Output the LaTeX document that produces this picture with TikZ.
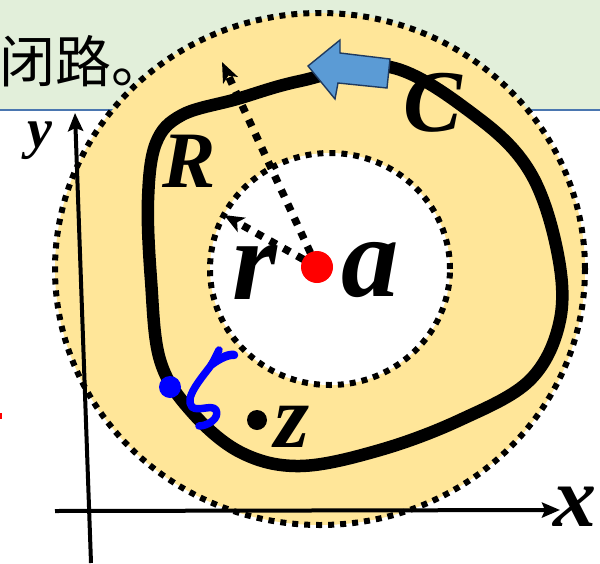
\documentclass[tikz,border=0pt]{standalone}
\usepackage{fontspec}
\setmainfont{Liberation Serif}
\newfontfamily\cjkfont{Noto Sans CJK SC}
\usetikzlibrary{arrows.meta}
\definecolor{hdrgreen}{HTML}{E2EFDA}
\definecolor{hdrline}{HTML}{4A76B0}
\definecolor{ringyellow}{HTML}{FFE699}
\definecolor{arrowblue}{HTML}{5B9BD5}
\definecolor{arrowedge}{HTML}{1F3A5F}
\newcommand{\bisize}[1]{\fontsize{#1}{#1}\selectfont\bfseries\itshape}
\tikzset{
  ringdots/.style={line width=6pt, dash pattern=on 6pt off 6pt},
  raddots/.style={line width=7.5pt, dash pattern=on 7.5pt off 8pt, -{Stealth[length=20pt,width=16pt,inset=5pt]}},
  axisline/.style={line width=4pt, -{Stealth[length=18pt,width=15pt,inset=3pt]}},
  lbl/.style={inner sep=0pt, outer sep=0pt},
  contour/.style={line width=12.5pt, line join=round},
  zetastroke/.style={blue, line width=7.5pt, line cap=round, line join=round}
}
\begin{document}
\begin{tikzpicture}[x=1pt,y=-1pt]
\useasboundingbox (0,0) rectangle (600,563);
% header band
\fill[hdrgreen] (0,0) rectangle (600,110);
\draw[hdrline, line width=2.5pt] (0,110) -- (600,110);
% stray red mark at left edge
\fill[red] (0,413) rectangle (2,419);
% outer ring
\fill[ringyellow] (320,269) ellipse [x radius=265pt, y radius=256pt];
\draw[ringdots] (320,269) ellipse [x radius=265pt, y radius=256pt];
% inner disc
\filldraw[fill=white, ringdots] (330,269) ellipse [x radius=120pt, y radius=116pt];
% axes
\coordinate (yb) at (91,563);
\coordinate (yt) at (75,113);
\draw[axisline] (yb) -- (yt);
\coordinate (xl) at (55,511);
\coordinate (xr) at (560,510);
\draw[axisline] (xl) -- (xr);
% contour C
\draw[contour] plot[smooth cycle, tension=0.6] coordinates {
  (390,67) (300,81) (237,99) (182,115) (156,143) (148,200) (151,280)
  (160,360) (190,410) (240,452) (300,466) (380,450) (460,420)
  (530,380) (560,320) (557,250) (530,172) (477,117)};
% direction arrow
\draw[fill=arrowblue, draw=arrowedge, line width=1.4pt, line join=miter]
  (308,66) -- (340,40) -- (340,53) -- (390,59) -- (387,88) -- (338,83) -- (335,99) -- cycle;
% radii
\coordinate (ctr) at (317,267);
\coordinate (Rtip) at (222,62);
\coordinate (rtip) at (224,215);
\draw[raddots] (ctr) -- (Rtip);
\draw[raddots] (ctr) -- (rtip);
\fill[red] (ctr) circle[radius=16pt];
% zeta point
\fill[blue] (170,387) circle[radius=11pt];
\draw[zetastroke] (219,350) -- (212,364) .. controls (200,380) and (184,398) .. (192,407)
  .. controls (198,412) and (212,404) .. (216,410) .. controls (220,418) and (208,426) .. (199,426);
\draw[zetastroke, line width=8.5pt] (212,364) .. controls (220,358) and (229,354) .. (234,355);
% z point
\fill (257,420) circle[radius=10pt];
% labels
\node[lbl, font={\bisize{56}}] (ylab) at (40,141) {y};
\node[lbl, font={\bisize{86}}] (xlab) at (575,507) {x};
\node[lbl, font={\bisize{88}}] (Clab) at (433,103) {C};
\node[lbl, font={\bisize{80}}] (Rlab) at (189,161) {R};
\node[lbl, font={\bisize{115}}] (rlab) at (255,272) {r};
\node[lbl, font={\bisize{115}}] (alab) at (370,270) {a};
\node[lbl, font={\bisize{90}}] (zlab) at (292,427) {z};
\node[lbl, anchor=base west, font={\cjkfont\fontsize{56}{56}\selectfont}] (title) at (-1,82) {闭路。};
\end{tikzpicture}
\end{document}
